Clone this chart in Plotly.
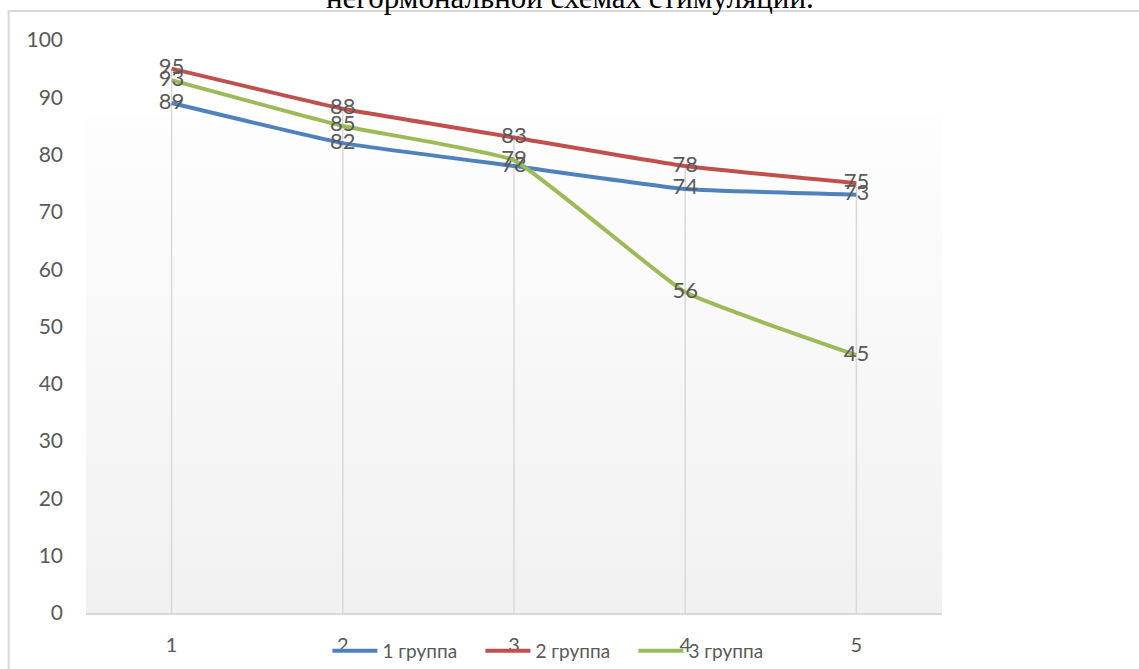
import plotly.graph_objects as go

# Categories and series values
categories = [1, 2, 3, 4, 5]
group1 = [89, 82, 78, 74, 73]
group2 = [95, 88, 83, 78, 75]
group3 = [93, 85, 79, 56, 45]
series_names = ["1 группа", "2 группа", "3 группа"]
series_colors = ["#4f81bd", "#c0504d", "#9bbb59"]
y_ticks = [0, 10, 20, 30, 40, 50, 60, 70, 80, 90, 100]
title_text = "негормональной схемах стимуляции."

FONT = "Lato"
LABEL_COLOR = "#595959"
GRID_COLOR = "#d9d9d9"

fig = go.Figure()

# Drop lines: from the highest point of each category down to the axis
drop_x, drop_y = [], []
for i, c in enumerate(categories):
    top = max(group1[i], group2[i], group3[i])
    drop_x += [c, c, None]
    drop_y += [top, 0, None]
fig.add_trace(go.Scatter(
    x=drop_x, y=drop_y, mode="lines",
    line=dict(color=GRID_COLOR, width=1.5),
    hoverinfo="skip", showlegend=False,
))

for name, values, color in zip(series_names, [group1, group2, group3], series_colors):
    fig.add_trace(go.Scatter(
        x=categories, y=values, name=name,
        mode="lines+text",
        line=dict(color=color, width=4, shape="spline", smoothing=0.35),
        text=[str(v) for v in values],
        textposition="middle center",
        textfont=dict(family=FONT, size=22, color=LABEL_COLOR),
        cliponaxis=False,
    ))

# Soft vertical gradient filling the lower part of the plot area
gradient_svg = (
    "data:image/svg+xml;utf8,"
    "<svg xmlns='http://www.w3.org/2000/svg' width='100' height='100' preserveAspectRatio='none'>"
    "<defs><linearGradient id='g' x1='0' y1='0' x2='0' y2='1'>"
    "<stop offset='0' stop-color='%23fefefe'/>"
    "<stop offset='1' stop-color='%23f1f1f1'/>"
    "</linearGradient></defs>"
    "<rect width='100' height='100' fill='url(%23g)'/></svg>"
)
fig.add_layout_image(dict(
    source=gradient_svg, xref="paper", yref="paper",
    x=0, y=0.869, sizex=1, sizey=0.869,
    xanchor="left", yanchor="top", sizing="stretch", layer="below",
))

# Outer frame of the chart area
fig.add_shape(type="rect", xref="paper", yref="paper",
              x0=-0.0904, x1=1.25, y0=-0.2, y1=1.0506,
              line=dict(color=GRID_COLOR, width=2), layer="below")

# Caption text partly above the chart
fig.add_annotation(text=title_text, xref="paper", yref="paper",
                   x=0.565, y=1.0404, xanchor="center", yanchor="bottom",
                   showarrow=False,
                   font=dict(family="Liberation Serif", size=31, color="#000000"))

fig.update_layout(
    width=1139, height=669,
    margin=dict(l=86, r=197, t=40, b=56, autoexpand=False),
    paper_bgcolor="#ffffff", plot_bgcolor="rgba(0,0,0,0)",
    font=dict(family=FONT, size=21, color=LABEL_COLOR),
    showlegend=True,
    legend=dict(orientation="h", x=0.282, xanchor="left",
                y=0.027, yref="container", yanchor="middle",
                entrywidth=93, entrywidthmode="pixels", itemwidth=45,
                bgcolor="rgba(0,0,0,0)", font=dict(family=FONT, size=19, color=LABEL_COLOR)),
    xaxis=dict(range=[0.5, 5.5], tickvals=categories, ticktext=[str(c) for c in categories],
               showgrid=False, zeroline=False, ticks="",
               showline=True, linecolor=GRID_COLOR, linewidth=2,
               ticklabelstandoff=13,
               tickfont=dict(family=FONT, size=20, color=LABEL_COLOR)),
    yaxis=dict(range=[0, 100], tickvals=y_ticks, showgrid=False, zeroline=False,
               showline=False, ticks="", ticklabelstandoff=22,
               tickfont=dict(family=FONT, size=21, color=LABEL_COLOR)),
)

fig.write_html("out.html")
